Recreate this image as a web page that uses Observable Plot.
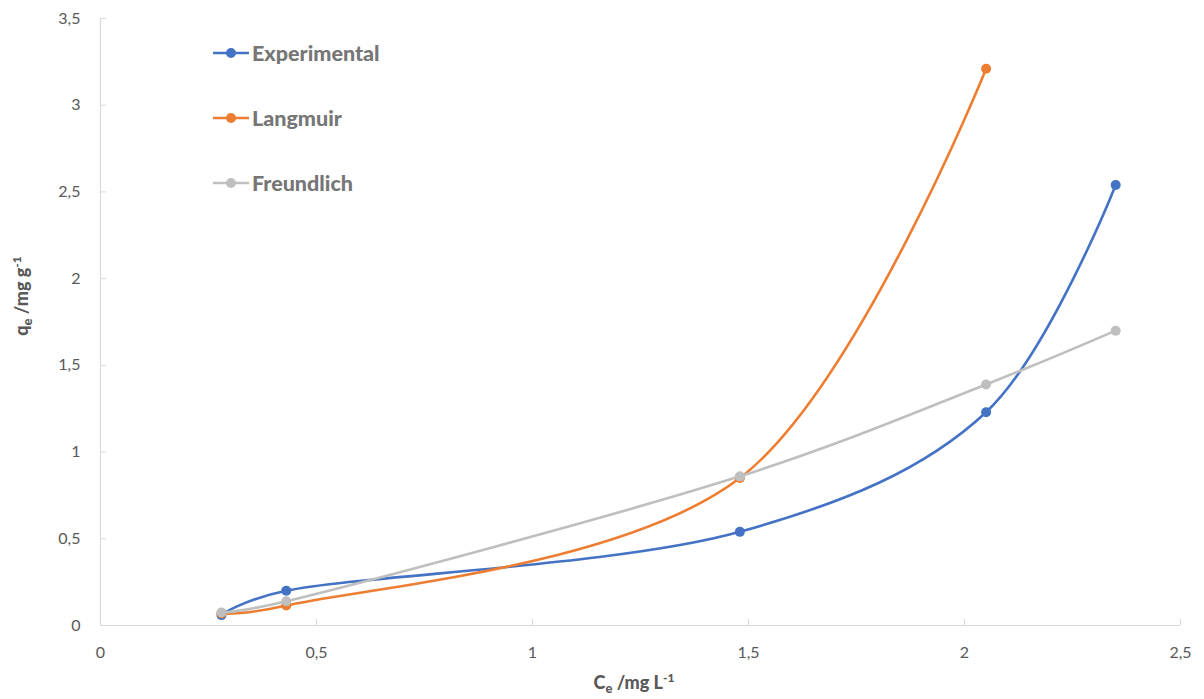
<!DOCTYPE html>
<html>
<head>
<meta charset="utf-8">
<script src="https://cdn.jsdelivr.net/npm/d3@7"></script>
<script src="https://cdn.jsdelivr.net/npm/@observablehq/plot@0.6"></script>
<style>
  html, body { margin: 0; padding: 0; background: #fff; }
  #wrap { position: relative; width: 1204px; height: 699px; font-family: Lato, "Open Sans", sans-serif; }
  #legend { position: absolute; left: 213px; top: 0; }
  .lg { position: absolute; display: flex; align-items: center; white-space: nowrap; }
  .lg span { font-weight: 900; font-size: 21.5px; color: #767676; margin-left: 3px; }
</style>
</head>
<body>
<div id="wrap"></div>
<script>
// Data
const seriesNames = ["Experimental", "Langmuir", "Freundlich"];
const seriesColors = ["#4472C4", "#ED7D31", "#BFBFBF"];
const ceExperimental = [0.28, 0.43, 1.48, 2.05, 2.35];
const qeExperimental = [0.06, 0.20, 0.54, 1.23, 2.54];
const ceLangmuir = [0.28, 0.43, 1.48, 2.05];
const qeLangmuir = [0.07, 0.115, 0.85, 3.21];
const ceFreundlich = [0.28, 0.43, 1.48, 2.05, 2.35];
const qeFreundlich = [0.075, 0.14, 0.86, 1.39, 1.70];
const xTicks = [0, 0.5, 1, 1.5, 2, 2.5];
const yTicks = [0, 0.5, 1, 1.5, 2, 2.5, 3, 3.5];

const toRows = (xs, ys) => xs.map((x, i) => ({x, y: ys[i]}));
const series = [
  toRows(ceExperimental, qeExperimental),
  toRows(ceLangmuir, qeLangmuir),
  toRows(ceFreundlich, qeFreundlich)
];
const fmt = d => String(d).replace(".", ",");
const axisColor = "#d9d9d9";
const textColor = "#595959";
const smooth = d3.curveCatmullRom.alpha(0.3);

const marks = [
  Plot.ruleY([0], {stroke: axisColor, strokeWidth: 1.2}),
  Plot.ruleX([0], {stroke: axisColor, strokeWidth: 1.2}),
  Plot.axisX(xTicks, {tickSize: -6, tickPadding: 27, stroke: axisColor, fill: textColor, tickFormat: fmt, fontSize: 16, label: null}),
  Plot.axisY(yTicks, {tickSize: -6, tickPadding: 26, stroke: axisColor, fill: textColor, tickFormat: fmt, fontSize: 16, label: null})
];
series.forEach((rows, i) => {
  marks.push(Plot.line(rows, {x: "x", y: "y", stroke: seriesColors[i], strokeWidth: 2.6, curve: smooth}));
  marks.push(Plot.dot(rows, {x: "x", y: "y", fill: seriesColors[i], r: 5}));
});

const chart = Plot.plot({
  width: 1204,
  height: 699,
  marginLeft: 100,
  marginRight: 24,
  marginTop: 18,
  marginBottom: 74,
  style: {fontFamily: "Lato, 'Open Sans', sans-serif", background: "#fff"},
  x: {domain: [0, 2.5]},
  y: {domain: [0, 3.5]},
  marks
});

const wrap = document.getElementById("wrap");
wrap.appendChild(chart);

// Axis titles with sub/superscripts
const svg = d3.select(chart);
const xt = svg.append("text")
  .attr("x", 634).attr("y", 689)
  .attr("text-anchor", "middle")
  .attr("font-weight", "900").attr("font-size", 18).attr("fill", textColor);
xt.append("tspan").text("C");
xt.append("tspan").attr("font-size", 13).attr("dy", 4).text("e");
xt.append("tspan").attr("dy", -4).text(" /mg L");
xt.append("tspan").attr("font-size", 12).attr("dy", -7).text("-1");

const yt = svg.append("text")
  .attr("transform", "translate(28,296) rotate(-90)")
  .attr("text-anchor", "middle")
  .attr("font-weight", "900").attr("font-size", 18).attr("fill", textColor);
yt.append("tspan").text("q");
yt.append("tspan").attr("font-size", 13).attr("dy", 4).text("e");
yt.append("tspan").attr("dy", -4).text(" /mg g");
yt.append("tspan").attr("font-size", 12).attr("dy", -7).text("-1");

// Legend
const legend = document.createElement("div");
legend.id = "legend";
const legendTops = [40, 105, 170];
seriesNames.forEach((name, i) => {
  const item = document.createElement("div");
  item.className = "lg";
  item.style.top = legendTops[i] + "px";
  item.innerHTML = `<svg width="36" height="24"><line x1="0" x2="36" y1="12" y2="12" stroke="${seriesColors[i]}" stroke-width="2.6"/><circle cx="18" cy="12" r="5" fill="${seriesColors[i]}"/></svg><span>${name}</span>`;
  legend.appendChild(item);
});
wrap.appendChild(legend);
</script>
</body>
</html>
